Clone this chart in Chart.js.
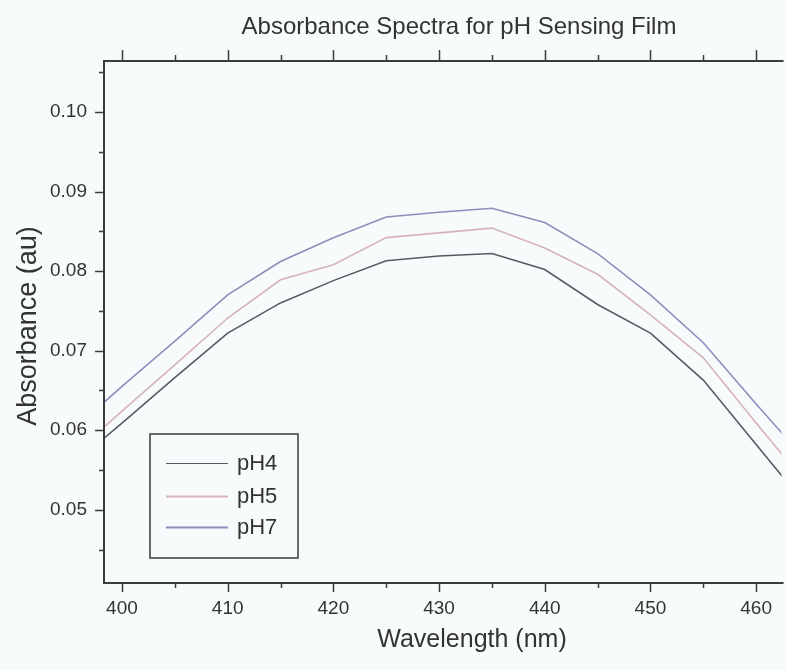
<!DOCTYPE html>
<html>
<head>
<meta charset="utf-8">
<script src="https://cdn.jsdelivr.net/npm/chart.js@4"></script>
<style>
  html, body { margin: 0; padding: 0; background: #f7fbfb; }
  #wrap { width: 786px; height: 670px; }
</style>
</head>
<body>
<div id="wrap"><canvas id="myChart" width="786" height="670"></canvas></div>
<script>
// values (nm / absorbance)
const wavelengths = [395, 400, 405, 410, 415, 420, 425, 430, 435, 440, 445, 450, 455, 460, 465];
const ph4 = [0.0553, 0.0609, 0.0666, 0.0722, 0.0760, 0.0788, 0.0813, 0.0819, 0.0822, 0.0802, 0.0758, 0.0722, 0.0663, 0.0582, 0.0501];
const ph5 = [0.0565, 0.0624, 0.0682, 0.0741, 0.0789, 0.0808, 0.0842, 0.0848, 0.0854, 0.0829, 0.0796, 0.0745, 0.0691, 0.0609, 0.0529];
const ph7 = [0.0596, 0.0655, 0.0712, 0.0770, 0.0812, 0.0842, 0.0868, 0.0874, 0.0879, 0.0861, 0.0822, 0.0770, 0.0710, 0.0633, 0.0558];

const seriesNames = ["pH4", "pH5", "pH7"];
const xTickValues = [400, 410, 420, 430, 440, 450, 460];
const xMinorValues = [405, 415, 425, 435, 445, 455];
const yTickLabels = ["0.05", "0.06", "0.07", "0.08", "0.09", "0.10"];
const yMinorValues = [0.045, 0.055, 0.065, 0.075, 0.085, 0.095, 0.105];

const chartTitle = "Absorbance Spectra for pH Sensing Film";
const xTitle = "Wavelength (nm)";
const yTitle = "Absorbance (au)";

const lineColors = ["#575c61", "#d6b3bc", "#8a8fbb"];
const axisColor = "#3c3c3c";
const textColor = "#333333";
const fontName = "'Liberation Sans', Arial, sans-serif";

function toPoints(ys) {
  return wavelengths.map((w, i) => ({ x: w, y: ys[i] }));
}

const allX = xTickValues.concat(xMinorValues).sort((a, b) => a - b);
const yMajor = yTickLabels.map(Number);
const allY = yMajor.concat(yMinorValues).sort((a, b) => a - b);

// frame, tick marks, legend and titles
const framePlugin = {
  id: "frame",
  afterDraw(chart) {
    const ctx = chart.ctx;
    const { left, top, right, bottom } = chart.chartArea;
    const xs = chart.scales.x;
    const ys = chart.scales.y;
    ctx.save();
    ctx.strokeStyle = axisColor;
    ctx.lineWidth = 2;
    ctx.beginPath();
    ctx.moveTo(right + 2, top);
    ctx.lineTo(left, top);
    ctx.lineTo(left, bottom);
    ctx.lineTo(right + 2, bottom);
    ctx.stroke();

    ctx.lineWidth = 1.5;
    ctx.beginPath();
    xTickValues.forEach(v => {
      const px = Math.round(xs.getPixelForValue(v)) + 0.5;
      ctx.moveTo(px, bottom); ctx.lineTo(px, bottom + 9);
      ctx.moveTo(px, top); ctx.lineTo(px, top - 11);
    });
    xMinorValues.forEach(v => {
      const px = Math.round(xs.getPixelForValue(v)) + 0.5;
      ctx.moveTo(px, bottom); ctx.lineTo(px, bottom + 5);
      ctx.moveTo(px, top); ctx.lineTo(px, top - 6);
    });
    yMajor.forEach(v => {
      const py = Math.round(ys.getPixelForValue(v)) + 0.5;
      ctx.moveTo(left, py); ctx.lineTo(left - 9, py);
    });
    yMinorValues.forEach(v => {
      const py = Math.round(ys.getPixelForValue(v)) + 0.5;
      ctx.moveTo(left, py); ctx.lineTo(left - 5, py);
    });
    ctx.stroke();

    // legend box
    const lx = 150, ly = 434, lw = 148, lh = 124;
    ctx.fillStyle = "#f7fbfb";
    ctx.fillRect(lx, ly, lw, lh);
    ctx.lineWidth = 1.5;
    ctx.strokeStyle = axisColor;
    ctx.strokeRect(lx, ly, lw, lh);
    const rows = [463, 496, 527];
    ctx.font = "22px " + fontName;
    ctx.textBaseline = "middle";
    ctx.textAlign = "left";
    chart.data.datasets.forEach((ds, i) => {
      ctx.strokeStyle = ds.borderColor;
      ctx.lineWidth = i === 0 ? 1 : 2;
      ctx.beginPath();
      ctx.moveTo(166, rows[i] + 0.5);
      ctx.lineTo(228, rows[i] + 0.5);
      ctx.stroke();
      ctx.fillStyle = textColor;
      ctx.fillText(ds.label, 237, rows[i] + 1);
    });

    // titles
    ctx.fillStyle = textColor;
    ctx.textAlign = "center";
    ctx.font = "24px " + fontName;
    ctx.fillText(chartTitle, 459, 27);
    ctx.font = "25px " + fontName;
    ctx.fillText(xTitle, 472, 640);
    ctx.translate(29, 326);
    ctx.rotate(-Math.PI / 2);
    ctx.font = "27px " + fontName;
    ctx.fillText(yTitle, 0, 0);
    ctx.restore();
  }
};

const data = {
  datasets: seriesNames.map((name, i) => ({
    label: name,
    data: toPoints([ph4, ph5, ph7][i]),
    borderColor: lineColors[i],
    borderWidth: 1.6,
    pointRadius: 0,
    tension: 0,
    fill: false,
    clip: 0,
  })),
};

const config = {
  type: "line",
  data: data,
  options: {
    responsive: false,
    animation: false,
    layout: { padding: { top: 61, right: 0, bottom: 0, left: 0 } },
    plugins: {
      legend: { display: false },
      tooltip: { enabled: false },
      title: { display: false },
    },
    scales: {
      x: {
        type: "linear",
        min: 398.3,
        max: 462.4,
        afterBuildTicks: (scale) => {
          scale.ticks = allX.map(v => ({ value: v }));
        },
        afterFit: (scale) => { scale.height = 87; },
        grid: { display: false, drawTicks: false },
        border: { display: false },
        ticks: {
          autoSkip: false,
          maxRotation: 0,
          padding: 14,
          color: textColor,
          font: { family: fontName, size: 19 },
          callback: (v) => (xTickValues.includes(v) ? String(v) : ""),
        },
      },
      y: {
        type: "linear",
        min: 0.0408,
        max: 0.1064,
        afterBuildTicks: (scale) => {
          scale.ticks = allY.map(v => ({ value: v }));
        },
        afterFit: (scale) => { scale.width = 104; },
        grid: { display: false, drawTicks: false },
        border: { display: false },
        ticks: {
          autoSkip: false,
          padding: 17,
          color: textColor,
          font: { family: fontName, size: 19 },
          callback: (v) => {
            const idx = yMajor.findIndex(m => Math.abs(m - v) < 1e-9);
            return idx >= 0 ? yTickLabels[idx] : "";
          },
        },
      },
    },
  },
  plugins: [framePlugin],
};

const myChart = new Chart(document.getElementById("myChart"), config);
</script>
</body>
</html>
